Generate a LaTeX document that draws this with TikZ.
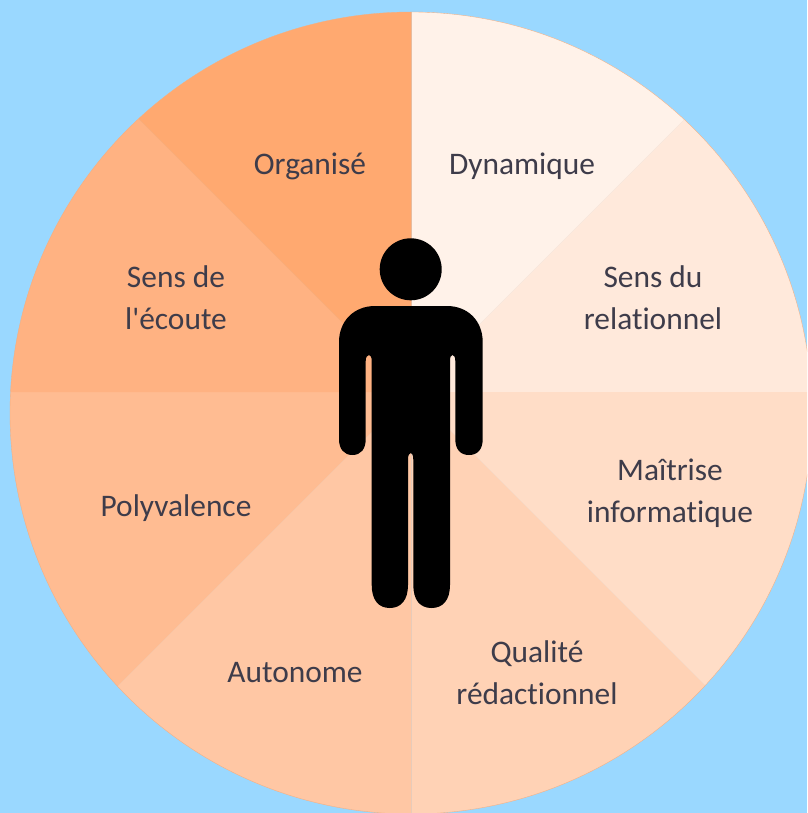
\documentclass[tikz,border=0pt]{standalone}
\usepackage{fontspec}
\newfontfamily\labfont[Ligatures=NoCommon]{Carlito}
\definecolor{bgblue}{HTML}{9AD8FF}
\definecolor{wedgea}{HTML}{FFF2E9}
\definecolor{wedgeb}{HTML}{FFE9DB}
\definecolor{wedgec}{HTML}{FFDDC7}
\definecolor{wedged}{HTML}{FFD2B5}
\definecolor{wedgee}{HTML}{FFC7A4}
\definecolor{wedgef}{HTML}{FFBC92}
\definecolor{wedgeg}{HTML}{FFB282}
\definecolor{wedgeh}{HTML}{FFA970}
\definecolor{rimcol}{HTML}{F5AE80}
\definecolor{labelcol}{HTML}{3E3C4A}
\tikzset{
  lab/.style={text=labelcol,font=\labfont\fontsize{31.4}{42}\selectfont,align=center,inner sep=0pt},
  figure/.style={fill=black,draw=none}
}
\begin{document}
\begin{tikzpicture}[x=1pt,y=-1pt]
\useasboundingbox (0,0) rectangle (807,813);
\fill[bgblue] (0,0) rectangle (807,813);
\coordinate (hub) at (411.7,392);
\begin{scope}
\clip (0,0) rectangle (807,813);
\begin{scope}
\clip (411,413) circle[radius=401];
\foreach \a/\b/\c in {90/45/wedgea,45/0/wedgeb,0/-45/wedgec,-45/-90/wedged,-90/-135/wedgee,-135/-180/wedgef,180/135/wedgeg,135/90/wedgeh}{
  \fill[\c] (hub) -- ++({900*cos(\a)},{-900*sin(\a)}) -- ++({900*cos(\b)-900*cos(\a)},{-900*sin(\b)+900*sin(\a)}) -- cycle;
}
\end{scope}
\draw[rimcol,line width=0.35pt] (411,413) circle[radius=401];
\end{scope}
% figure
\fill[figure] (410.7,269.3) circle[radius=31];
\fill[figure] (375,306) -- (447,306)
  .. controls (468,306) and (482.7,321) .. (482.7,342)
  -- (482.7,439)
  .. controls (482.7,449) and (478,455) .. (469,455)
  .. controls (460,455) and (455.3,449) .. (455.3,439)
  -- (455.3,361)
  .. controls (455.3,357) and (454,355) .. (452.5,355)
  .. controls (451,355) and (450,357) .. (450,361)
  -- (450,585)
  .. controls (450,600) and (443,608) .. (431.5,608)
  .. controls (420,608) and (413.3,600) .. (413.3,585)
  -- (413.3,460)
  .. controls (413.3,455) and (412,453) .. (410.7,453)
  .. controls (409.3,453) and (408,455) .. (408,460)
  -- (408,585)
  .. controls (408,600) and (401,608) .. (389.8,608)
  .. controls (378.5,608) and (371.7,600) .. (371.7,585)
  -- (371.7,361)
  .. controls (371.7,357) and (370.5,355) .. (369,355)
  .. controls (367.5,355) and (365.7,357) .. (365.7,361)
  -- (365.7,439)
  .. controls (365.7,449) and (361,455) .. (352.3,455)
  .. controls (344,455) and (339,449) .. (339,439)
  -- (339,342)
  .. controls (339,321) and (354,306) .. (375,306) -- cycle;
% labels
\node[lab] (organise) at (310,166.5) {Organisé};
\node[lab] (dynamique) at (522,166) {Dynamique};
\node[lab] (ecoute) at (176,298) {Sens de\\l'écoute};
\node[lab] (relation) at (653,298) {Sens du\\relationnel};
\node[lab] (maitrise) at (670,493) {Maîtrise\\informatique};
\node[lab] (polyvalence) at (176,508.5) {Polyvalence};
\node[lab] (autonome) at (295,673) {Autonome};
\node[lab] (qualite) at (537,673) {Qualité\\rédactionnel};
\end{tikzpicture}
\end{document}
